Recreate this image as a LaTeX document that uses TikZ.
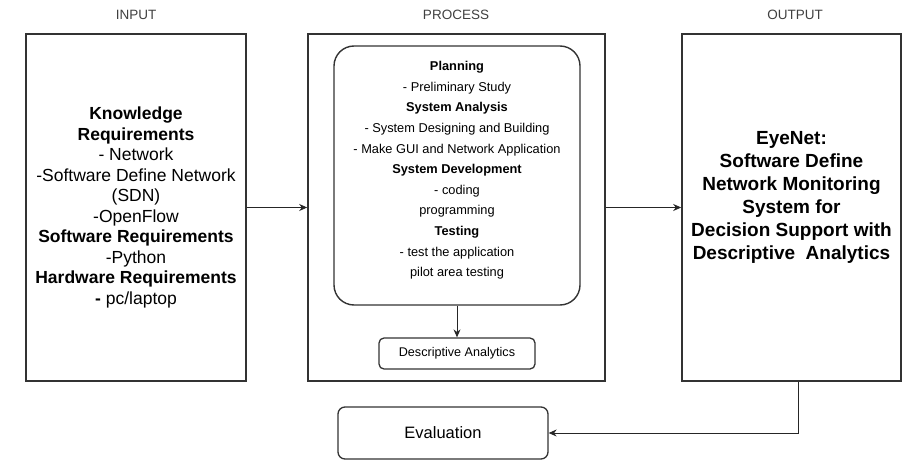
\documentclass[tikz,border=0pt]{standalone}
\usepackage{fontspec}
\setmainfont{Liberation Sans}
\usepackage{tikz}
\usetikzlibrary{positioning, arrows, arrows.meta}
\tikzstyle{box} = [
    rectangle, text centered,
    align=center,
    draw=black!80,
    line width=1.6pt,
]
\tikzstyle{stage} = [
    box,
    minimum height=347pt,
]
\tikzstyle{phase} = [
    box,
    rounded corners=20pt,
    line width=1.4pt,
]
\tikzstyle{result} = [
    box,
    rounded corners=5pt,
    line width=1.3pt,
]
\tikzstyle{heading} = [
    text=black!75,
    font=\fontsize{13.5}{15}\selectfont,
]
\tikzstyle{arrow} = [-{Stealth[length=8pt,width=7pt]}, line width=0.9pt, draw=black!85]

\begin{document}
\begin{tikzpicture}[x=1pt,y=-1pt]
    \useasboundingbox (0,0) rectangle (920,473);

    % headings
    \node (hin) at (136, 15) [heading] {INPUT};
    \node (hproc) at (456, 15) [heading] {PROCESS};
    \node (hout) at (795, 15) [heading] {OUTPUT};

    % boxes
    \node (in) at (136, 207.5) [stage, minimum width=220pt,
        font=\fontsize{17.5}{20.5}\selectfont] {%
        \textbf{Knowledge}\\ \textbf{Requirements}\\ - Network\\
        -Software Define Network\\ (SDN)\\ -OpenFlow\\
        \textbf{Software Requirements}\\ -Python\\
        \textbf{Hardware Requirements}\\ \textbf{-} pc/laptop};
    \node (proc) at (456.5, 207.5) [stage, minimum width=297pt] {};
    \node (plan) at (457, 175.5) [phase, minimum width=246pt, minimum height=259pt,
        text depth=13pt, font=\fontsize{12.8}{20.6}\selectfont] {%
        \textbf{Planning}\\ - Preliminary Study\\ \textbf{System Analysis}\\
        - System Designing and Building\\ - Make GUI and Network Application\\
        \textbf{System Development}\\ - coding\\ programming\\
        \textbf{Testing}\\ - test the application\\ pilot area testing};
    \node (da) at (457, 353.5) [result, minimum width=156pt, minimum height=31pt,
        font=\fontsize{12.6}{14}\selectfont] {Descriptive Analytics};
    \node (out) at (791.5, 207.5) [stage, minimum width=219pt,
        text depth=24pt, font=\bfseries\fontsize{19}{23}\selectfont] {%
        EyeNet:\\ Software Define\\ Network Monitoring\\ System for\\
        Decision Support with\\ Descriptive\ \ Analytics};
    \node (eval) at (443, 433) [result, rounded corners=7pt, minimum width=210pt,
        minimum height=52pt, font=\fontsize{16.5}{18}\selectfont] {Evaluation};

    % arrows
    \draw [arrow] (in.east) to (proc.west);
    \draw [arrow] (proc.east) to (out.west);
    \draw [arrow] (plan.south) to (da.north);
    \draw [arrow] ([xshift=6.5pt]out.south) |- (eval.east);
\end{tikzpicture}
\end{document}
